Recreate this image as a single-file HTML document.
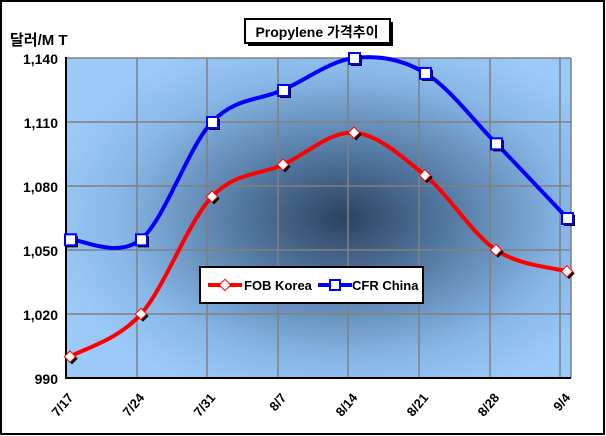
<!DOCTYPE html>
<html><head><meta charset="utf-8">
<style>
body{margin:0;background:#fff;}
svg{display:block;font-family:"Liberation Sans","Noto Sans CJK KR",sans-serif;}
</style></head><body>
<svg id="s" width="606" height="436" viewBox="0 0 606 436" xmlns="http://www.w3.org/2000/svg">
<defs>
<radialGradient id="bg" cx="0.55" cy="0.5" r="0.6">
<stop offset="0" stop-color="#2c4260"/>
<stop offset="0.35" stop-color="#547aa2"/>
<stop offset="0.75" stop-color="#88b8e8"/>
<stop offset="1" stop-color="#9ccaf8"/>
</radialGradient>
</defs>
<rect x="1" y="1" width="603" height="433" fill="#fff" stroke="#000" stroke-width="2"/>
<rect x="66" y="58" width="505" height="320" fill="url(#bg)"/>
<g stroke="#808080" stroke-width="1.5">
<line x1="66" y1="58" x2="571" y2="58"/><line x1="66" y1="122" x2="571" y2="122"/>
<line x1="66" y1="186" x2="571" y2="186"/><line x1="66" y1="250" x2="571" y2="250"/>
<line x1="66" y1="314" x2="571" y2="314"/>
<line x1="137" y1="58" x2="137" y2="378"/><line x1="207" y1="58" x2="207" y2="378"/>
<line x1="278" y1="58" x2="278" y2="378"/><line x1="348" y1="58" x2="348" y2="378"/>
<line x1="419" y1="58" x2="419" y2="378"/><line x1="490" y1="58" x2="490" y2="378"/>
<line x1="560" y1="58" x2="560" y2="378"/><line x1="571" y1="58" x2="571" y2="378"/>
</g>
<g stroke="#000" stroke-width="2">
<line x1="66" y1="57" x2="66" y2="379"/><line x1="65" y1="378" x2="571" y2="378"/>
</g>
<g font-size="14" font-weight="bold" text-anchor="end" fill="#000">
<text x="58" y="64">1,140</text><text x="58" y="128">1,110</text><text x="58" y="192">1,080</text>
<text x="58" y="256">1,050</text><text x="58" y="320">1,020</text><text x="58" y="384">990</text>
</g>
<text x="10" y="45" font-size="15" font-weight="bold">달러/M T</text>
<g font-size="13" font-weight="bold" text-anchor="end">
<text transform="translate(74,398) rotate(-50)">7/17</text>
<text transform="translate(145,398) rotate(-50)">7/24</text>
<text transform="translate(216,398) rotate(-50)">7/31</text>
<text transform="translate(287,398) rotate(-50)">8/7</text>
<text transform="translate(358,398) rotate(-50)">8/14</text>
<text transform="translate(429,398) rotate(-50)">8/21</text>
<text transform="translate(500,398) rotate(-50)">8/28</text>
<text transform="translate(571,398) rotate(-50)">9/4</text>
</g>
<rect x="248" y="22" width="145" height="24" fill="#000"/>
<rect x="245" y="19" width="145" height="24" fill="#fff" stroke="#000" stroke-width="2"/>
<text x="317" y="37" font-size="14" font-weight="bold" text-anchor="middle">Propylene 가격추이</text>
<g id="series"></g>
<rect x="200" y="267" width="223" height="36" fill="#fff" stroke="#000" stroke-width="2"/>
<line x1="208" y1="285" x2="242" y2="285" stroke="#f00" stroke-width="4"/>
<rect x="221" y="281" width="8" height="8" fill="#fff" stroke="#f00" transform="rotate(45 225 285)"/>
<text x="244" y="290" font-size="13" font-weight="bold">FOB Korea</text>
<line x1="318" y1="285" x2="352" y2="285" stroke="#00f" stroke-width="4"/>
<rect x="330" y="280" width="10" height="10" fill="#fff" stroke="#00f" stroke-width="2"/>
<text x="352" y="290" font-size="13" font-weight="bold">CFR China</text>
</svg>
<script>
function Y(v){return 378-(v-990)*320/150;}
var fob=[1000,1020,1075,1090,1105,1085,1050,1040],cfr=[1055,1055,1110,1125,1140,1133,1100,1065];
function path(d){var p=d.map(function(v,i){return[70+71*i,Y(v)];});var s="M"+p[0][0]+","+p[0][1];
for(var i=0;i<p.length-1;i++){var a=p[Math.max(i-1,0)],b=p[i],c=p[i+1],e=p[Math.min(i+2,p.length-1)];
s+=" C"+(b[0]+(c[0]-a[0])/6)+","+(b[1]+(c[1]-a[1])/6)+" "+(c[0]-(e[0]-b[0])/6)+","+(c[1]-(e[1]-b[1])/6)+" "+c[0]+","+c[1];}return[s,p];}
var g=document.getElementById("series"),h="";
var r=path(fob);h+='<path d="'+r[0]+'" fill="none" stroke="#f00" stroke-width="4"/>';
r[1].forEach(function(q){h+='<rect x="'+(q[0]-2)+'" y="'+(q[1]-2)+'" width="8" height="8" fill="#000" transform="rotate(45 '+(q[0]+2)+' '+(q[1]+2)+')"/>';
h+='<rect x="'+(q[0]-4)+'" y="'+(q[1]-4)+'" width="8" height="8" fill="#fff" stroke="#f00" transform="rotate(45 '+q[0]+' '+q[1]+')"/>';});
r=path(cfr);h+='<path d="'+r[0]+'" fill="none" stroke="#00f" stroke-width="4"/>';
r[1].forEach(function(q){h+='<rect x="'+(q[0]-3)+'" y="'+(q[1]-3)+'" width="11" height="11" fill="#000"/>';
h+='<rect x="'+(q[0]-5)+'" y="'+(q[1]-5)+'" width="11" height="11" fill="#fff" stroke="#00f" stroke-width="2"/>';});
g.innerHTML=h;
</script>
</body></html>
